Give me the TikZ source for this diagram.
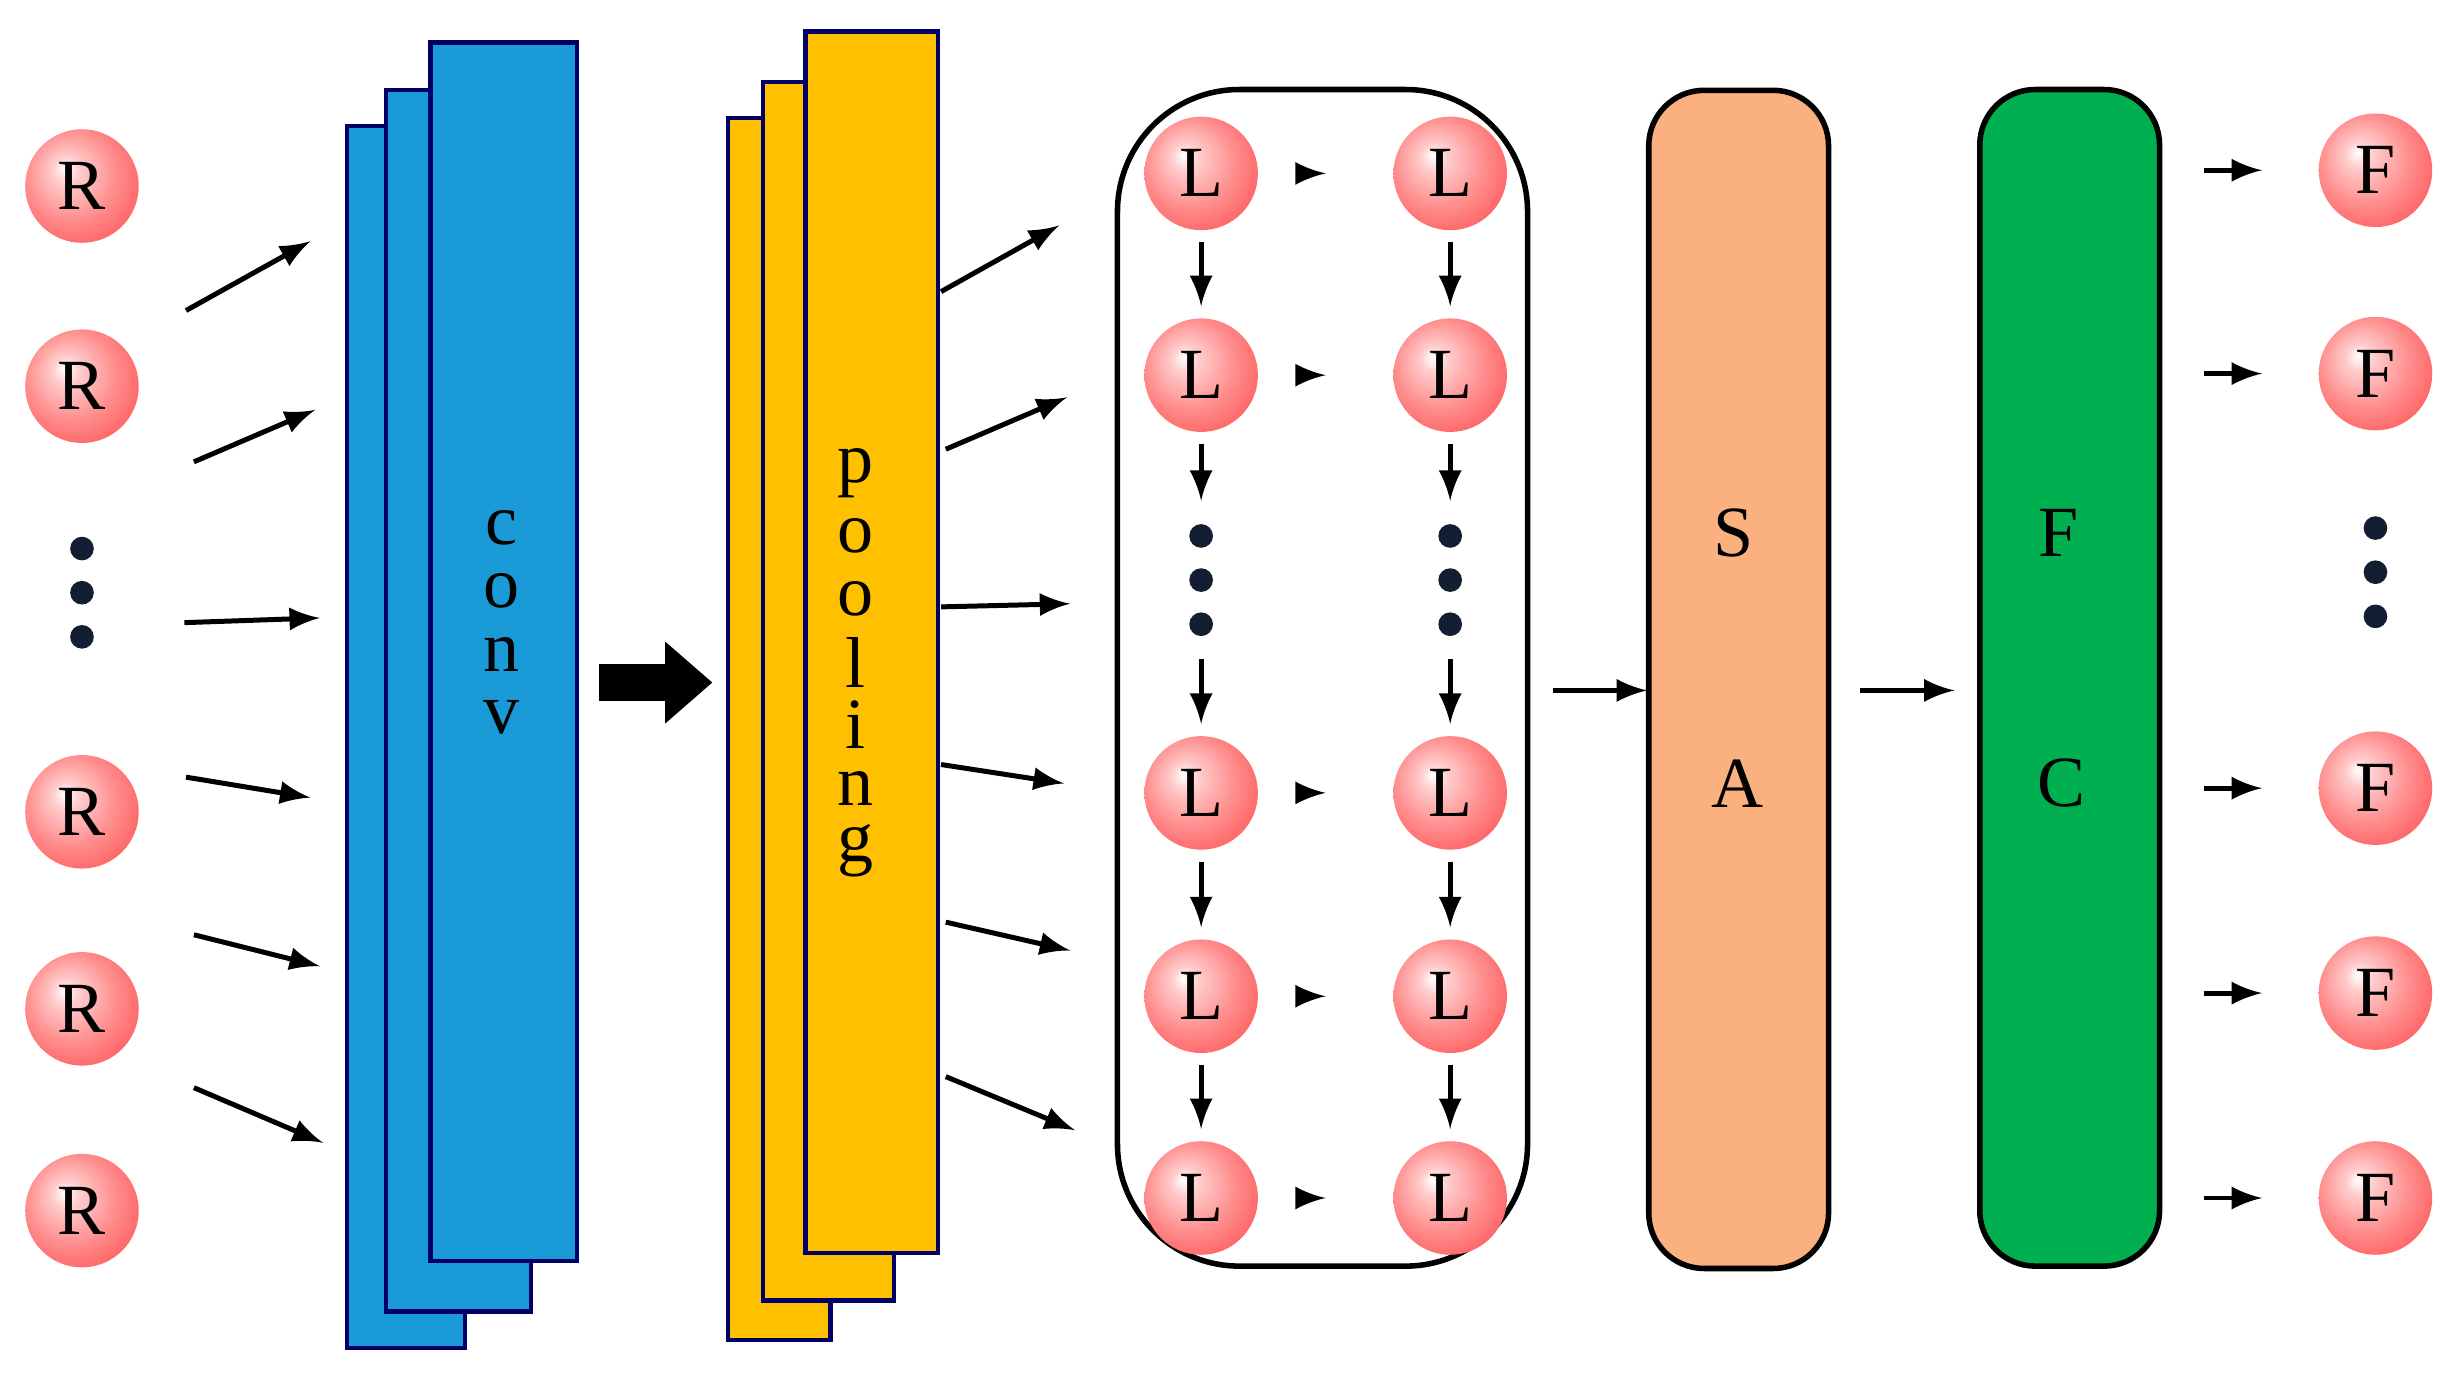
\documentclass[tikz,border=0pt]{standalone}
\usepackage{fontspec}
\setmainfont{Liberation Serif}
\usetikzlibrary{arrows.meta}
\pgfdeclareradialshading{pinkball}{\pgfpoint{-8bp}{8bp}}{color(0bp)=(white); color(6bp)=(white!80!red); color(20bp)=(red!45); color(30bp)=(red!60); color(50bp)=(red!65)}
\begin{document}
\begin{tikzpicture}[x=0.01cm,y=-0.01cm,
 ball/.style={circle,minimum size=0.72cm,inner sep=0pt,shading=pinkball,font=\fontsize{13}{15}\selectfont},
 ar/.style={-latex,line width=0.9pt},
 dot/.style={circle,fill={rgb,255:red,20;green,30;blue,50},inner sep=0pt,minimum size=0.15cm},
 lab/.style={font=\fontsize{13}{15}\selectfont,inner sep=0pt},
 conv/.style={draw=blue!40!black,fill={rgb,255:red,26;green,154;blue,214},line width=0.8pt},
 pool/.style={draw=blue!40!black,fill={rgb,255:red,255;green,192;blue,0},line width=0.8pt}]
\useasboundingbox (0,0) rectangle (1560,875);
% R inputs
\foreach \y/\n in {118/r1,245/r2,515/r3,640/r4,768/r5}
  \node[ball] (\n) at (52,\y) {R};
\foreach \y/\n in {348/d1,376/d2,404/d3} \node[dot] (\n) at (52,\y) {};
% conv
\draw[conv] (220,80) rectangle (295,855);
\draw[conv] (245,57) rectangle (337,832);
\draw[conv] (273,27) rectangle (366,800);
\foreach \t [count=\i] in {c,o,n,v} \node[lab] (cv\i) at (318,295+40*\i) {\t};
\foreach \a/\b/\c/\d [count=\i] in {118/197/197/153,123/293/200/260,117/395/203/392,118/493/197/506,123/593/203/613,123/690/205/725}{
  \coordinate (ia\i) at (\a,\b); \coordinate (ib\i) at (\c,\d); \draw[ar] (ia\i) -- (ib\i);}
% big arrow
\coordinate (ba) at (380,433); \coordinate (bb) at (452,433);
\draw[line width=0.24cm,-{Triangle[length=0.3cm,width=0.5cm]}] (ba) -- (bb);
% pooling
\draw[pool] (462,75) rectangle (527,850);
\draw[pool] (484,52) rectangle (567,825);
\draw[pool] (511,20) rectangle (595,795);
\foreach \t [count=\i] in {p,o,o,l,i,n,g} \node[lab] (pl\i) at (543,260+40*\i) {\t};
\foreach \a/\b/\c/\d [count=\i] in {597/185/672/143,600/285/677/252,597/385/679/383,597/485/675/497,600/585/679/603,600/683/682/717}{
  \coordinate (pa\i) at (\a,\b); \coordinate (pb\i) at (\c,\d); \draw[ar] (pa\i) -- (pb\i);}
% LSTM box
\node[draw,rounded corners=22pt,line width=1pt,minimum width=2.6cm,minimum height=7.46cm] (box) at (839,430) {};
\foreach \y [count=\j] in {110,238,503,632,760}{
  \node[ball] (a\j) at (762,\y) {L};
  \node[ball] (b\j) at (920,\y) {L};
  \draw[ar,shorten <=10pt,shorten >=12pt] (a\j) -- (b\j);}
\foreach \x/\c in {762/a,920/b}{
  \foreach \y [count=\k] in {340,368,396} \node[dot] (\c d\k) at (\x,\y) {};
  \draw[ar,shorten <=2pt,shorten >=2pt] (\c1) -- (\c2); \draw[ar,shorten <=2pt,shorten >=4pt] (\c2) -- (\c d1); \draw[ar,shorten <=4pt,shorten >=2pt] (\c d3) -- (\c3);
  \draw[ar,shorten <=2pt,shorten >=2pt] (\c3) -- (\c4); \draw[ar,shorten <=2pt,shorten >=2pt] (\c4) -- (\c5);}
% SA
\node[draw,rounded corners=10pt,line width=1pt,fill={rgb,255:red,251;green,176;blue,128},minimum width=1.14cm,minimum height=7.47cm] (sa) at (1103,431) {};
\node[lab] (s) at (1100,338) {S}; \node[lab] (aa) at (1102,497) {A};
\coordinate (bsa) at (985,438); \coordinate (esa) at (1045,438);
\draw[ar] (bsa) -- (esa);
% FC
\node[draw,rounded corners=10pt,line width=1pt,fill={rgb,255:red,0;green,176;blue,80},minimum width=1.14cm,minimum height=7.46cm] (fc) at (1313,430) {};
\node[lab] (f) at (1306,338) {F}; \node[lab] (cc) at (1308,497) {C};
\coordinate (sfa) at (1180,438); \coordinate (sfb) at (1240,438);
\draw[ar] (sfa) -- (sfb);
% outputs
\foreach \y [count=\i] in {108,237,500,630,760}{
  \node[ball] (o\i) at (1507,\y) {F};
  \coordinate (oa\i) at (1398,\y);
  \draw[ar,shorten >=10pt] (oa\i) -- (o\i);}
\foreach \y [count=\k] in {335,363,391} \node[dot] (od\k) at (1507,\y) {};
\end{tikzpicture}
\end{document}
